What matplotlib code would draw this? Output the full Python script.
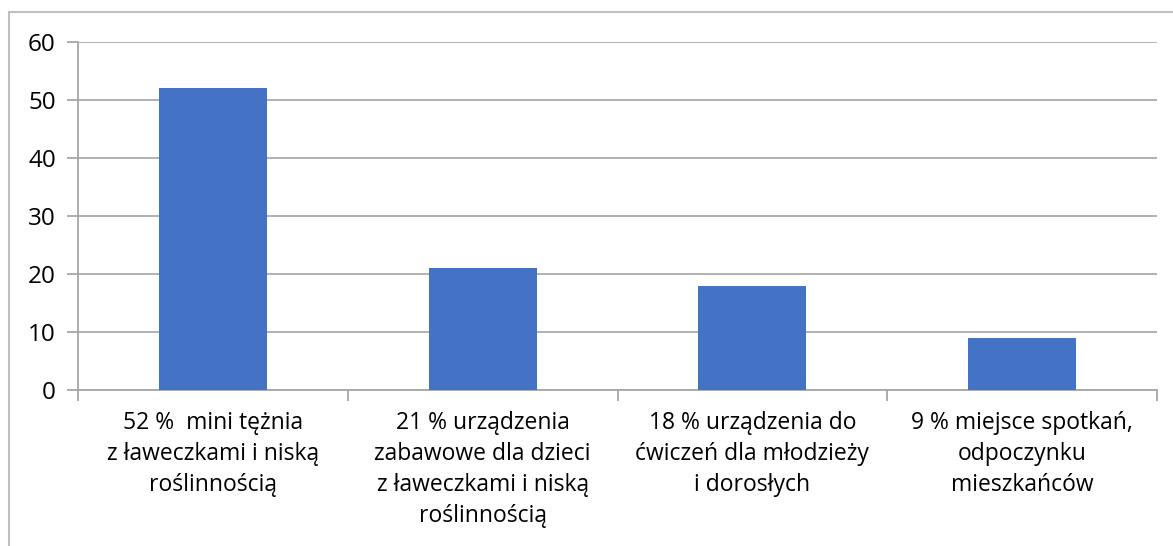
import numpy as np
import matplotlib.pyplot as plt
from matplotlib.patches import Rectangle

# data
categories = [
    "52 %  mini tężnia\nz ławeczkami i niską\nroślinnością",
    "21 % urządzenia\nzabawowe dla dzieci\nz ławeczkami i niską\nroślinnością",
    "18 % urządzenia do\nćwiczeń dla młodzieży\ni dorosłych",
    "9 % miejsce spotkań,\nodpoczynku\nmieszkańców",
]
values = [52, 21, 18, 9]
yticks = [0, 10, 20, 30, 40, 50, 60]

plt.rcParams['font.family'] = ['Open Sans', 'DejaVu Sans']

W, H = 1173, 546
fig = plt.figure(figsize=(W / 100, H / 100), dpi=100)

# outer chart border (runs off the right and bottom edges)
fig.patches.append(Rectangle((9 / W, -0.1), 1.2, 1 - 12 / H + 0.1,
                             transform=fig.transFigure, fill=False,
                             edgecolor="#bfbfbf", linewidth=1.5))

ax = fig.add_axes([78 / W, 1 - 390 / H, (1157 - 78) / W, (390 - 42) / H])
x = np.arange(len(values))
ax.bar(x, values, width=0.4, color="#4472C4", zorder=3)

ax.set_xlim(-0.5, len(values) - 0.5)
ax.set_ylim(0, 60)
ax.set_yticks(yticks)
ax.yaxis.grid(True, color="#ababab", linewidth=1.3, zorder=0)

ax.set_xticks(x)
ax.set_xticklabels(categories, fontsize=16.5, linespacing=1.4)
ax.tick_params(axis="x", which="major", length=0, pad=15)
ax.set_xticks(np.arange(-0.5, len(values)), minor=True)
ax.tick_params(axis="x", which="minor", length=8, color="#a6a6a6", width=1.3)
ax.tick_params(axis="y", length=8, color="#a6a6a6", width=1.3,
               labelsize=17.5, pad=8)

for s in ["top", "right"]:
    ax.spines[s].set_visible(False)
for s in ["left", "bottom"]:
    ax.spines[s].set_color("#a6a6a6")
    ax.spines[s].set_linewidth(1.3)

fig.savefig("out.png", dpi=100)
